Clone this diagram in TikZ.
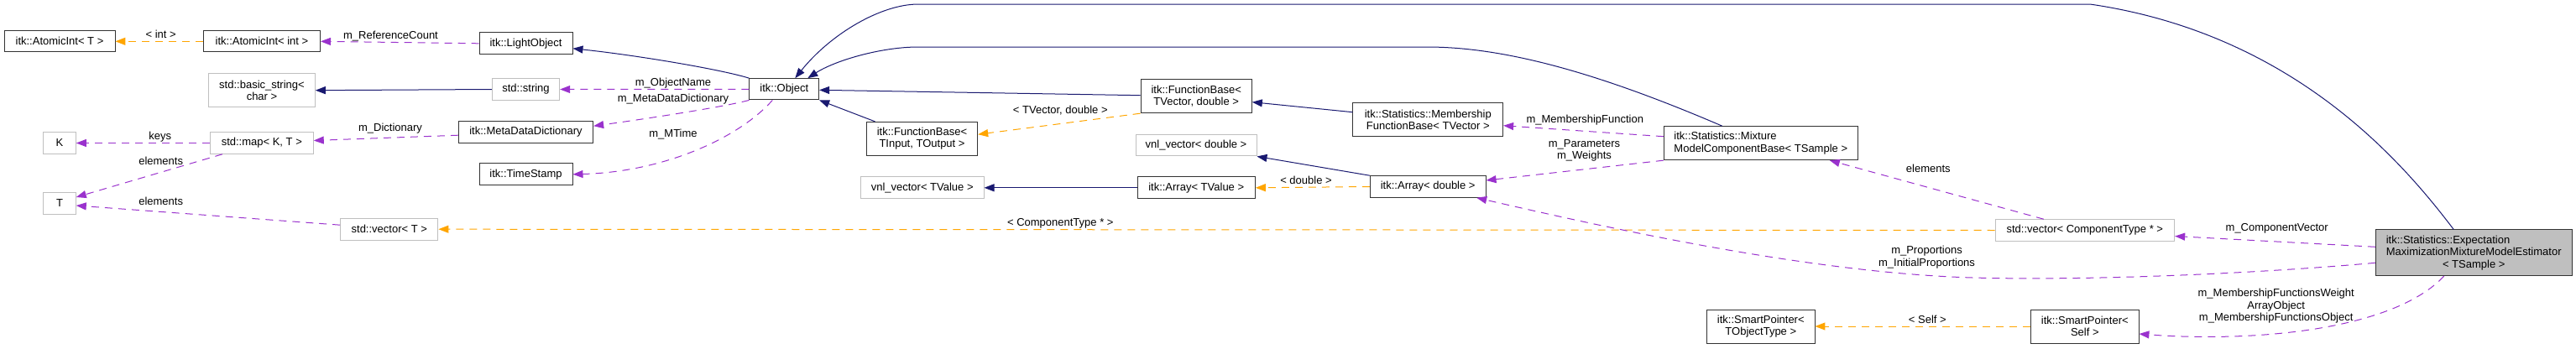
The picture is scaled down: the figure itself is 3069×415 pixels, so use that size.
\documentclass[tikz,border=0pt]{standalone}
\usepackage{fontspec}
\setmainfont{Liberation Sans}
\usetikzlibrary{arrows.meta}
\definecolor{dxnavy}{HTML}{191970}
\definecolor{dxpurple}{HTML}{9A32CD}
\definecolor{dxorange}{HTML}{FFA500}
\definecolor{dxgray}{HTML}{BFBFBF}
\newcommand{\dxfont}{\fontsize{13}{14.5}\selectfont}

\begin{document}
\begin{tikzpicture}[
    x=1pt, y=-1pt,
    cls/.style={rectangle, draw=black!80, line width=0.95pt, fill=white,
                inner sep=0pt, align=center, font=\dxfont},
    ext/.style={cls, draw=dxgray},
    estimator/.style={cls, fill=dxgray},
    lbl/.style={inner sep=0pt, align=center, font=\dxfont},
    inh/.style={draw=dxnavy, line width=1pt, ->},
    mem/.style={draw=dxpurple, line width=1pt, dash pattern=on 9pt off 7pt, ->},
    tpl/.style={draw=dxorange, line width=1pt, dash pattern=on 9pt off 7pt, ->},
    >={Triangle[length=12pt,width=9pt]}
]
\useasboundingbox (0,0) rectangle (3069,415);

\node[cls, minimum width=132pt, minimum height=25pt]     (atomT)    at (71,49.3)     {itk::AtomicInt< T >};
\node[cls, minimum width=139pt, minimum height=25pt]     (atomInt)  at (312,49.3)    {itk::AtomicInt< int >};
\node[ext, minimum width=126.6pt, minimum height=40pt]   (basicStr) at (312,107.7)   {std::basic\_string<\\char >};
\node[ext, minimum width=38.6pt, minimum height=25.6pt]  (K)        at (71,170.5)    {K};
\node[ext, minimum width=123pt, minimum height=25.6pt]   (stdMap)   at (311.8,170.5) {std::map< K, T >};
\node[ext, minimum width=38.6pt, minimum height=25.6pt]  (T)        at (71,242.5)    {T};
\node[ext, minimum width=116.3pt, minimum height=25.7pt] (vecT)     at (463.8,273.2) {std::vector< T >};
\node[cls, minimum width=111pt, minimum height=25.7pt]   (lightObj) at (626.5,51.8)  {itk::LightObject};
\node[ext, minimum width=80.4pt, minimum height=25.6pt]  (stdStr)   at (626.5,106.5) {std::string};
\node[cls, minimum width=160.4pt, minimum height=25.7pt] (metaDict) at (626.5,157.2) {itk::MetaDataDictionary};
\node[cls, minimum width=111pt, minimum height=25.7pt]   (timeStamp) at (626.5,207.8) {itk::TimeStamp};
\node[cls, minimum width=82.7pt, minimum height=25.3pt]  (obj)      at (934.3,106.3) {itk::Object};
\node[cls, minimum width=132.4pt, minimum height=39.7pt] (fbIO)     at (1098.5,165.2) {itk::FunctionBase<\\TInput, TOutput >};
\node[ext, minimum width=146.7pt, minimum height=25.7pt] (vnlT)     at (1098.7,223.8) {vnl\_vector< TValue >};
\node[cls, minimum width=132.3pt, minimum height=40pt]   (fbVD)     at (1425.2,114.7) {itk::FunctionBase<\\TVector, double >};
\node[ext, minimum width=144pt, minimum height=25.3pt]   (vnlD)     at (1425,173.3)  {vnl\_vector< double >};
\node[cls, minimum width=140.3pt, minimum height=25.7pt] (arrT)     at (1425.2,223.8) {itk::Array< TValue >};
\node[cls, minimum width=178.7pt, minimum height=40pt]   (mfb)      at (1701.3,142.7) {itk::Statistics::Membership\\FunctionBase< TVector >};
\node[cls, minimum width=137.7pt, minimum height=25.6pt] (arrD)     at (1701.2,222.5) {itk::Array< double >};
\node[cls, align=left, minimum width=231pt, minimum height=40pt] (mix) at (2097.8,170.7) {itk::Statistics::Mixture\\ModelComponentBase< TSample >};
\node[cls, minimum width=128.3pt, minimum height=40pt]   (spT)      at (2097.8,389)  {itk::SmartPointer<\\TObjectType >};
\node[ext, minimum width=213.7pt, minimum height=25.6pt] (vecC)     at (2483.8,274.5) {std::vector< ComponentType * >};
\node[cls, minimum width=128.3pt, minimum height=40pt]   (spS)      at (2483.8,389)  {itk::SmartPointer<\\Self >};
\node[estimator, minimum width=233.7pt, minimum height=54.7pt] (em) at (2947.2,301.3)
    {\rlap{itk::Statistics::Expectation}\phantom{MaximizationMixtureModelEstimator}\\MaximizationMixtureModelEstimator\\< TSample >};

\draw[tpl] (atomInt.west) -- (atomT.east);
\draw[mem] (lightObj.west) -- (atomInt.east);
\draw[inh] (stdStr.west) -- (basicStr.east);
\draw[inh] (obj.north west) .. controls (860,83) and (760,66) .. ([yshift=-6pt]lightObj.east);
\draw[mem] (obj.west) -- (stdStr.east);
\draw[mem] (obj.south west) .. controls (860,128) and (760,143) .. ([yshift=7pt]metaDict.east);
\draw[mem] ([xshift=-14pt]obj.south) .. controls (880,165) and (790,205) .. (timeStamp.east);
\draw[mem] ([yshift=-4pt]metaDict.west) -- ([yshift=3pt]stdMap.east);
\draw[mem] (stdMap.west) -- (K.east);
\draw[mem] ([xshift=-46.8pt]stdMap.south) -- ([yshift=7.5pt]T.east);
\draw[mem] ([yshift=5pt]vecT.west) -- ([yshift=-2.5pt]T.east);
\draw[tpl] (vecC.west) -- (vecT.east);
\draw[inh] ([yshift=1pt]fbVD.west) -- ([yshift=-1pt]obj.east);
\draw[inh] ([xshift=-56pt]fbIO.north) -- (obj.south east);
\draw[tpl] (fbVD.south west) -- ([yshift=5pt]fbIO.east);
\draw[inh] ([yshift=9pt]mfb.west) -- ([yshift=-7pt]fbVD.east);
\draw[inh] (arrD.north west) -- (vnlD.south east);
\draw[tpl] (arrD.west) -- (arrT.east);
\draw[inh] (arrT.west) -- (vnlT.east);
\draw[inh] ([xshift=-46pt]mix.north) .. controls (1900,85) and (1790,56) .. (1700,56) -- (1094,56)
    .. controls (1050,56) and (995,72) .. ([xshift=28pt]obj.north);
\draw[inh] ([xshift=-24pt]em.north) .. controls (2860,190) and (2730,40) .. (2490,5) -- (1094,5)
    .. controls (1050,5) and (990,40) .. ([xshift=13pt]obj.north);
\draw[mem] ([yshift=8pt]mix.west) -- ([yshift=-7pt]mfb.east);
\draw[mem] (mix.south west) -- ([yshift=7.5pt]arrD.east);
\draw[mem] ([yshift=-12pt]em.west) .. controls (2700,325) and (2500,335) .. (2350,331)
    .. controls (2150,325) and (1900,268) .. ([xshift=58pt]arrD.south);
\draw[mem] ([yshift=7pt]em.west) -- ([yshift=-7pt]vecC.east);
\draw[mem] ([xshift=-49pt]vecC.north) -- ([xshift=82pt]mix.south);
\draw[tpl] (spS.west) -- (spT.east);
\draw[mem] ([xshift=-35.5pt]em.south) .. controls (2850,395) and (2680,408) .. ([yshift=-9pt]spS.east);

\node[lbl] (lInt)     at (191.7,40.7)  {< int >};
\node[lbl] (lRef)     at (465.5,42.7)  {m\_ReferenceCount};
\node[lbl] (lKeys)    at (190.7,162.7) {keys};
\node[lbl] (lElemMap) at (191.7,191.7) {elements};
\node[lbl] (lElemVec) at (191.7,240)   {elements};
\node[lbl] (lDict)    at (465,152.7)   {m\_Dictionary};
\node[lbl] (lName)    at (802,98.7)    {m\_ObjectName};
\node[lbl] (lMeta)    at (802,118.3)   {m\_MetaDataDictionary};
\node[lbl] (lMTime)   at (802,159.7)   {m\_MTime};
\node[lbl] (lTVec)    at (1263.3,132)  {< TVector, double >};
\node[lbl] (lDouble)  at (1556,215)    {< double >};
\node[lbl] (lComp)    at (1263.3,266.7) {< ComponentType * >};
\node[lbl] (lMemb)    at (1888.3,142.7) {m\_MembershipFunction};
\node[lbl] (lParam)   at (1887.5,179.2) {m\_Parameters\\m\_Weights};
\node[lbl] (lElemC)   at (2297.3,200.7) {elements};
\node[lbl] (lProp)    at (2295.5,306.8) {m\_Proportions\\m\_InitialProportions};
\node[lbl] (lSelf)    at (2296.3,380.7) {< Self >};
\node[lbl] (lCompVec) at (2712.7,272.7) {m\_ComponentVector};
\node[lbl] (lMembObj) at (2711.7,364.9) {m\_MembershipFunctionsWeight\\ArrayObject\\m\_MembershipFunctionsObject};
\end{tikzpicture}
\end{document}
